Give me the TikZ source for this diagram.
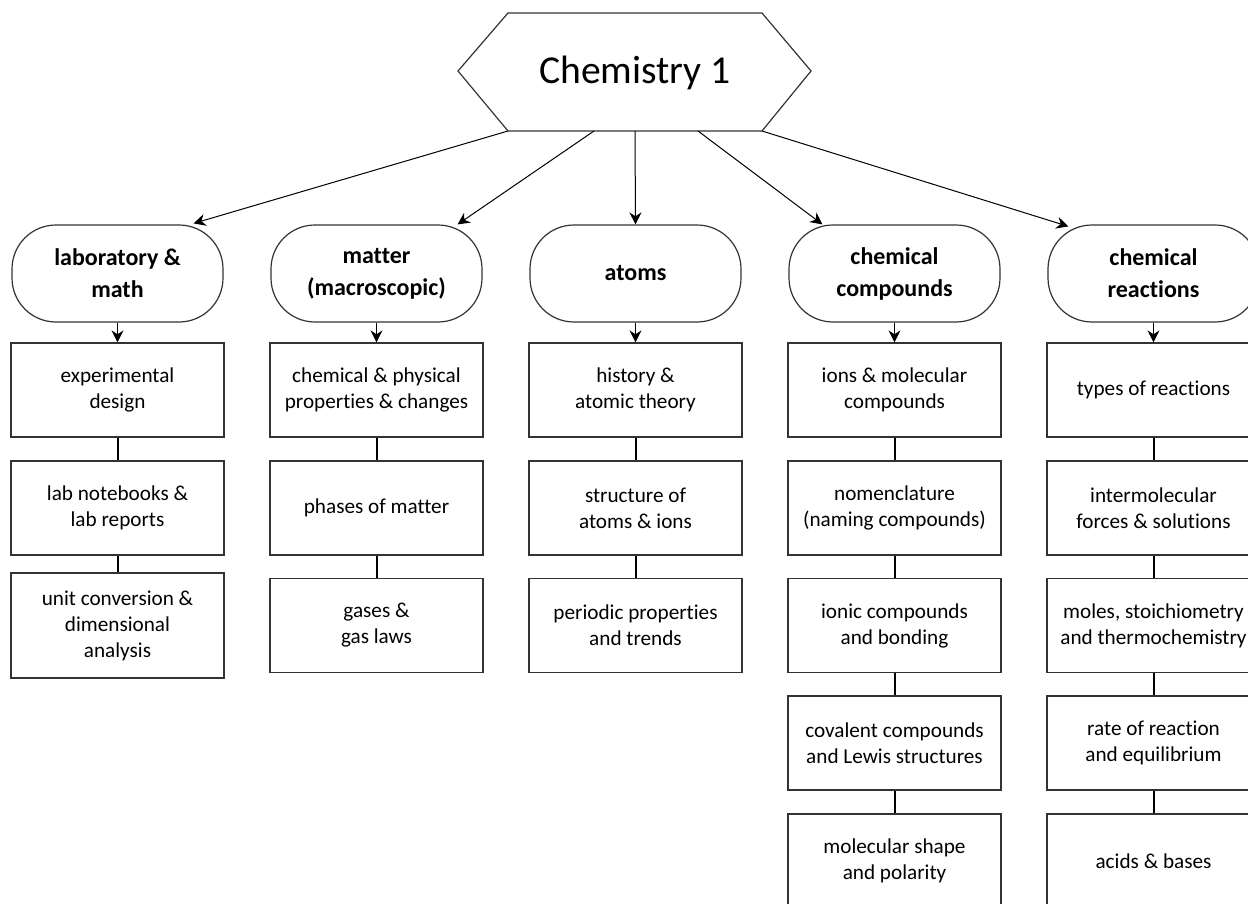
\documentclass[tikz,border=0pt]{standalone}
\usepackage{fontspec}
\setmainfont[Ligatures={NoCommon}]{Carlito}
\usetikzlibrary{arrows.meta,calc}
\begin{document}
\begin{tikzpicture}[x=0.5pt,y=-0.5pt,
  term/.style={draw=black!80, line width=0.6pt, rounded corners=22pt, minimum width=105.5pt, minimum height=48.5pt, align=center, font=\fontsize{12}{16}\selectfont\bfseries, inner sep=0pt},
  topic/.style={draw=black!80, line width=0.6pt, minimum width=106.5pt, minimum height=47pt, align=center, font=\fontsize{10.6}{13}\selectfont, inner sep=0pt},
  hexa/.style={draw=black!80, line width=0.6pt},
  link/.style={line width=1pt},
  arr/.style={line width=0.5pt, -{Stealth[length=6pt,width=6pt]}}
]
\useasboundingbox (0,0) rectangle (1248,904);

% hexagon
\coordinate (hl) at (458,71);
\coordinate (htl) at (508,13);
\coordinate (htr) at (762,13);
\coordinate (hr) at (811,71);
\coordinate (hbr) at (762,131);
\coordinate (hbl) at (508,131);
\draw[hexa] (hl) -- (htl) -- (htr) -- (hr) -- (hbr) -- (hbl) -- cycle;
\node[font=\fontsize{19.8}{24}\selectfont] (title) at (635,73) {Chemistry 1};
\coordinate (hb2) at (594,131);
\coordinate (hb3) at (635,131);
\coordinate (hb4) at (698,131);

% terminators
\node[term] (t1) at (117.5,273.5) {laboratory \&\\math};
\node[term] (t2) at (376.5,273.5) {matter\\(macroscopic)};
\node[term] (t3) at (635.5,273.5) {atoms};
\node[term] (t4) at (894.5,273.5) {chemical\\compounds};
\node[term] (t5) at (1153.5,273.5) {chemical\\reactions};

% column 1
\node[topic] (a1) at (117.5,390) {experimental\\design};
\node[topic] (a2) at (117.5,508) {lab notebooks \&\\lab reports};
\node[topic, minimum height=52.5pt] (a3) at (117.5,625.5) {unit conversion \&\\dimensional\\analysis};
% column 2
\node[topic] (b1) at (376.5,390) {chemical \& physical\\properties \& changes};
\node[topic] (b2) at (376.5,508) {phases of matter};
\node[topic] (b3) at (376.5,625.5) {gases \&\\gas laws};
% column 3
\node[topic] (c1) at (635.5,390) {history \&\\atomic theory};
\node[topic] (c2) at (635.5,508) {structure of\\atoms \& ions};
\node[topic] (c3) at (635.5,625.5) {periodic properties\\and trends};
% column 4
\node[topic] (d1) at (894.5,390) {ions \& molecular\\compounds};
\node[topic] (d2) at (894.5,508) {nomenclature\\(naming compounds)};
\node[topic] (d3) at (894.5,625.5) {ionic compounds\\and bonding};
\node[topic] (d4) at (894.5,743) {covalent compounds\\and Lewis structures};
\node[topic] (d5) at (894.5,861) {molecular shape\\and polarity};
% column 5
\node[topic] (e1) at (1153.5,390) {types of reactions};
\node[topic] (e2) at (1153.5,508) {intermolecular\\forces \& solutions};
\node[topic] (e3) at (1153.5,625.5) {moles, stoichiometry\\and thermochemistry};
\node[topic] (e4) at (1153.5,743) {rate of reaction\\and equilibrium};
\node[topic] (e5) at (1153.5,861) {acids \& bases};

% arrows from hexagon
\draw[arr] (hbl) -- ($(t1.north east)+(-30,-1)$);
\draw[arr] (hb2) -- ($(t2.north east)+(-25,0)$);
\draw[arr] (hb3) -- (t3.north);
\draw[arr] (hb4) -- ($(t4.north west)+(34,0)$);
\draw[arr] (hbr) -- ($(t5.north west)+(21,2)$);

% arrows terminator -> first box
\foreach \t/\b in {t1/a1,t2/b1,t3/c1,t4/d1,t5/e1}
  \draw[arr] (\t.south) -- (\b.north);

% links
\foreach \u/\v in {a1/a2,a2/a3,b1/b2,b2/b3,c1/c2,c2/c3,d1/d2,d2/d3,d3/d4,d4/d5,e1/e2,e2/e3,e3/e4,e4/e5}
  \draw[link] (\u.south) -- (\v.north);
\end{tikzpicture}
\end{document}
